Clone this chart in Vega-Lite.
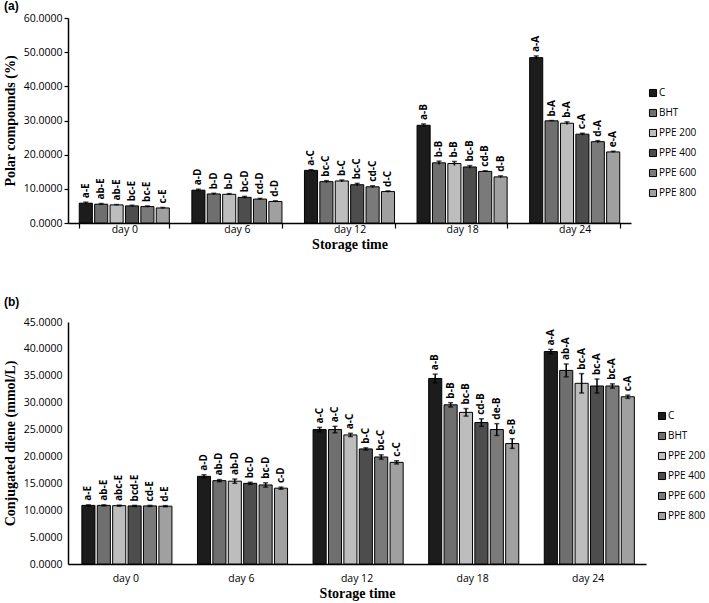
{
  "$schema": "https://vega.github.io/schema/vega-lite/v6.json",
  "padding": {"left": 3, "top": 0, "right": 0, "bottom": 0},
  "background": "white",
  "config": {
    "view": {"stroke": null},
    "font": "Open Sans",
    "axis": {
      "domainColor": "black", "domainWidth": 1.5, "tickColor": "black", "tickWidth": 1.2,
      "labelFont": "Open Sans", "labelFontSize": 10.5, "labelColor": "black",
      "titleFont": "Liberation Serif", "titleFontSize": 14, "titleFontWeight": "bold", "titleColor": "black",
      "grid": false
    },
    "legend": {
      "orient": "none", "title": null, "symbolType": "square", "symbolSize": 50,
      "symbolStrokeColor": "black", "symbolStrokeWidth": 1, "labelFont": "Open Sans",
      "labelFontSize": 10, "labelColor": "black", "rowPadding": 8, "padding": 0, "labelOffset": 1
    }
  },
  "datasets": {
    "a": [
      {"day": "day 0", "trt": "C", "v": 5.8, "lo": 5.5, "hi": 6.1, "lab": "a-E"},
      {"day": "day 0", "trt": "BHT", "v": 5.5, "lo": 5.3, "hi": 5.7, "lab": "ab-E"},
      {"day": "day 0", "trt": "PPE 200", "v": 5.3, "lo": 5.2, "hi": 5.4, "lab": "ab-E"},
      {"day": "day 0", "trt": "PPE 400", "v": 5.0, "lo": 4.8, "hi": 5.2, "lab": "bc-E"},
      {"day": "day 0", "trt": "PPE 600", "v": 4.8, "lo": 4.6, "hi": 5.0, "lab": "bc-E"},
      {"day": "day 0", "trt": "PPE 800", "v": 4.4, "lo": 4.25, "hi": 4.55, "lab": "c-E"},
      {"day": "day 6", "trt": "C", "v": 9.6, "lo": 9.3, "hi": 9.9, "lab": "a-D"},
      {"day": "day 6", "trt": "BHT", "v": 8.5, "lo": 8.3, "hi": 8.7, "lab": "b-D"},
      {"day": "day 6", "trt": "PPE 200", "v": 8.4, "lo": 8.2, "hi": 8.6, "lab": "b-D"},
      {"day": "day 6", "trt": "PPE 400", "v": 7.5, "lo": 7.2, "hi": 7.8, "lab": "bc-D"},
      {"day": "day 6", "trt": "PPE 600", "v": 7.0, "lo": 6.8, "hi": 7.2, "lab": "cd-D"},
      {"day": "day 6", "trt": "PPE 800", "v": 6.3, "lo": 6.1, "hi": 6.5, "lab": "d-D"},
      {"day": "day 12", "trt": "C", "v": 15.4, "lo": 15.2, "hi": 15.6, "lab": "a-C"},
      {"day": "day 12", "trt": "BHT", "v": 12.1, "lo": 11.8, "hi": 12.4, "lab": "bc-C"},
      {"day": "day 12", "trt": "PPE 200", "v": 12.3, "lo": 12.0, "hi": 12.6, "lab": "b-C"},
      {"day": "day 12", "trt": "PPE 400", "v": 11.2, "lo": 10.8, "hi": 11.6, "lab": "bc-C"},
      {"day": "day 12", "trt": "PPE 600", "v": 10.6, "lo": 10.3, "hi": 10.9, "lab": "cd-C"},
      {"day": "day 12", "trt": "PPE 800", "v": 9.2, "lo": 9.0, "hi": 9.4, "lab": "d-C"},
      {"day": "day 18", "trt": "C", "v": 28.6, "lo": 28.2, "hi": 29.0, "lab": "a-B"},
      {"day": "day 18", "trt": "BHT", "v": 17.6, "lo": 17.1, "hi": 18.1, "lab": "b-B"},
      {"day": "day 18", "trt": "PPE 200", "v": 17.4, "lo": 16.8, "hi": 18.0, "lab": "b-B"},
      {"day": "day 18", "trt": "PPE 400", "v": 16.4, "lo": 16.0, "hi": 16.8, "lab": "bc-B"},
      {"day": "day 18", "trt": "PPE 600", "v": 15.1, "lo": 14.9, "hi": 15.3, "lab": "cd-B"},
      {"day": "day 18", "trt": "PPE 800", "v": 13.5, "lo": 13.2, "hi": 13.8, "lab": "d-B"},
      {"day": "day 24", "trt": "C", "v": 48.4, "lo": 47.9, "hi": 48.9, "lab": "a-A"},
      {"day": "day 24", "trt": "BHT", "v": 29.9, "lo": 29.8, "hi": 30.0, "lab": "b-A"},
      {"day": "day 24", "trt": "PPE 200", "v": 29.2, "lo": 28.8, "hi": 29.6, "lab": "b-A"},
      {"day": "day 24", "trt": "PPE 400", "v": 26.0, "lo": 25.7, "hi": 26.3, "lab": "c-A"},
      {"day": "day 24", "trt": "PPE 600", "v": 23.8, "lo": 23.5, "hi": 24.1, "lab": "d-A"},
      {"day": "day 24", "trt": "PPE 800", "v": 20.8, "lo": 20.6, "hi": 21.0, "lab": "e-A"}
    ],
    "b": [
      {"day": "day 0", "trt": "C", "v": 10.9, "lo": 10.8, "hi": 11.0, "lab": "a-E"},
      {"day": "day 0", "trt": "BHT", "v": 10.9, "lo": 10.8, "hi": 11.0, "lab": "ab-E"},
      {"day": "day 0", "trt": "PPE 200", "v": 10.85, "lo": 10.75, "hi": 10.95, "lab": "abc-E"},
      {"day": "day 0", "trt": "PPE 400", "v": 10.8, "lo": 10.7, "hi": 10.9, "lab": "bcd-E"},
      {"day": "day 0", "trt": "PPE 600", "v": 10.8, "lo": 10.7, "hi": 10.9, "lab": "cd-E"},
      {"day": "day 0", "trt": "PPE 800", "v": 10.75, "lo": 10.65, "hi": 10.85, "lab": "d-E"},
      {"day": "day 6", "trt": "C", "v": 16.3, "lo": 16.0, "hi": 16.6, "lab": "a-D"},
      {"day": "day 6", "trt": "BHT", "v": 15.5, "lo": 15.3, "hi": 15.7, "lab": "ab-D"},
      {"day": "day 6", "trt": "PPE 200", "v": 15.4, "lo": 15.0, "hi": 15.8, "lab": "ab-D"},
      {"day": "day 6", "trt": "PPE 400", "v": 15.0, "lo": 14.8, "hi": 15.2, "lab": "bc-D"},
      {"day": "day 6", "trt": "PPE 600", "v": 14.7, "lo": 14.3, "hi": 15.1, "lab": "bc-D"},
      {"day": "day 6", "trt": "PPE 800", "v": 14.1, "lo": 13.9, "hi": 14.3, "lab": "c-D"},
      {"day": "day 12", "trt": "C", "v": 25.0, "lo": 24.6, "hi": 25.4, "lab": "a-C"},
      {"day": "day 12", "trt": "BHT", "v": 25.0, "lo": 24.4, "hi": 25.6, "lab": "a-C"},
      {"day": "day 12", "trt": "PPE 200", "v": 24.0, "lo": 23.7, "hi": 24.3, "lab": "a-C"},
      {"day": "day 12", "trt": "PPE 400", "v": 21.4, "lo": 21.2, "hi": 21.6, "lab": "b-C"},
      {"day": "day 12", "trt": "PPE 600", "v": 19.9, "lo": 19.5, "hi": 20.3, "lab": "bc-C"},
      {"day": "day 12", "trt": "PPE 800", "v": 18.9, "lo": 18.6, "hi": 19.2, "lab": "c-C"},
      {"day": "day 18", "trt": "C", "v": 34.5, "lo": 33.7, "hi": 35.3, "lab": "a-B"},
      {"day": "day 18", "trt": "BHT", "v": 29.6, "lo": 29.2, "hi": 30.0, "lab": "b-B"},
      {"day": "day 18", "trt": "PPE 200", "v": 28.2, "lo": 27.5, "hi": 28.9, "lab": "bc-B"},
      {"day": "day 18", "trt": "PPE 400", "v": 26.3, "lo": 25.6, "hi": 27.0, "lab": "cd-B"},
      {"day": "day 18", "trt": "PPE 600", "v": 25.0, "lo": 23.9, "hi": 26.1, "lab": "de-B"},
      {"day": "day 18", "trt": "PPE 800", "v": 22.4, "lo": 21.5, "hi": 23.3, "lab": "e-B"},
      {"day": "day 24", "trt": "C", "v": 39.5, "lo": 39.1, "hi": 39.9, "lab": "a-A"},
      {"day": "day 24", "trt": "BHT", "v": 36.0, "lo": 34.8, "hi": 37.2, "lab": "ab-A"},
      {"day": "day 24", "trt": "PPE 200", "v": 33.6, "lo": 31.8, "hi": 35.4, "lab": "bc-A"},
      {"day": "day 24", "trt": "PPE 400", "v": 33.1, "lo": 31.8, "hi": 34.4, "lab": "bc-A"},
      {"day": "day 24", "trt": "PPE 600", "v": 33.1, "lo": 32.7, "hi": 33.5, "lab": "bc-A"},
      {"day": "day 24", "trt": "PPE 800", "v": 31.1, "lo": 30.8, "hi": 31.4, "lab": "c-A"}
    ]
  },
  "spacing": 44,
  "resolve": {"scale": {"color": "independent"}, "legend": {"color": "independent"}},
  "vconcat": [
    {
      "title": {"text": "(a)", "anchor": "start", "frame": "group", "dx": -64, "fontSize": 12, "font": "Liberation Sans", "fontWeight": "bold", "offset": 0, "color": "black"},
      "width": 563, "height": 205,
      "data": {"name": "a"},
      "encoding": {
        "x": {"field": "day", "type": "nominal", "sort": ["day 0", "day 6", "day 12", "day 18", "day 24"],
              "scale": {"paddingInner": 0.2, "paddingOuter": 0.1},
              "axis": {"title": "Storage time", "labelAngle": 0, "tickBand": "extent", "tickSize": 5, "labelPadding": -4, "titlePadding": 3}},
        "xOffset": {"field": "trt", "type": "nominal", "sort": ["C", "BHT", "PPE 200", "PPE 400", "PPE 600", "PPE 800"], "scale": {"paddingInner": 0.15}}
      },
      "layer": [
        {
          "mark": {"type": "bar", "stroke": "black", "strokeWidth": 1},
          "encoding": {
            "y": {"field": "v", "type": "quantitative", "title": "Polar compounds (%)",
                  "scale": {"domain": [0, 60], "nice": false},
                  "axis": {"values": [0, 10, 20, 30, 40, 50, 60], "format": ".4f", "tickSize": 4, "labelPadding": 2, "titlePadding": 6, "labelOverlap": false}},
            "color": {"field": "trt", "type": "nominal",
                      "scale": {"domain": ["C", "BHT", "PPE 200", "PPE 400", "PPE 600", "PPE 800"],
                                "range": ["#1c1c1c", "#6f6f6f", "#bdbdbd", "#4d4d4d", "#7a7a7a", "#a0a0a0"]},
                      "legend": {"legendX": 580, "legendY": 70}}
          }
        },
        {
          "mark": {"type": "rule", "strokeWidth": 1.5, "color": "black"},
          "encoding": {"y": {"field": "lo", "type": "quantitative", "title": "Polar compounds (%)", "axis": {"values": [0, 10, 20, 30, 40, 50, 60], "format": ".4f", "tickSize": 4, "labelPadding": 2, "titlePadding": 6, "labelOverlap": false}}, "y2": {"field": "hi"}}
        },
        {
          "mark": {"type": "tick", "thickness": 1.5, "size": 5, "color": "black"},
          "encoding": {"y": {"field": "hi", "type": "quantitative", "title": "Polar compounds (%)", "axis": {"values": [0, 10, 20, 30, 40, 50, 60], "format": ".4f", "tickSize": 4, "labelPadding": 2, "titlePadding": 6, "labelOverlap": false}}}
        },
        {
          "mark": {"type": "text", "angle": 270, "align": "left", "baseline": "middle", "dx": 4, "fontSize": 10, "fontWeight": "bold", "font": "Open Sans", "color": "black"},
          "encoding": {"y": {"field": "hi", "type": "quantitative", "title": "Polar compounds (%)", "axis": {"values": [0, 10, 20, 30, 40, 50, 60], "format": ".4f", "tickSize": 4, "labelPadding": 2, "titlePadding": 6, "labelOverlap": false}}, "text": {"field": "lab"}}
        }
      ]
    },
    {
      "title": {"text": "(b)", "anchor": "start", "frame": "group", "dx": -64, "fontSize": 12, "font": "Liberation Sans", "fontWeight": "bold", "offset": 8, "color": "black"},
      "width": 578, "height": 242,
      "data": {"name": "b"},
      "encoding": {
        "x": {"field": "day", "type": "nominal", "sort": ["day 0", "day 6", "day 12", "day 18", "day 24"],
              "scale": {"paddingInner": 0.24, "paddingOuter": 0.12},
              "axis": {"title": "Storage time", "labelAngle": 0, "ticks": false, "labelPadding": 9, "titlePadding": 3}},
        "xOffset": {"field": "trt", "type": "nominal", "sort": ["C", "BHT", "PPE 200", "PPE 400", "PPE 600", "PPE 800"], "scale": {"paddingInner": 0.15}}
      },
      "layer": [
        {
          "mark": {"type": "bar", "stroke": "black", "strokeWidth": 1},
          "encoding": {
            "y": {"field": "v", "type": "quantitative", "title": "Conjugated  diene (mmol/L)",
                  "scale": {"domain": [0, 45], "nice": false},
                  "axis": {"values": [0, 5, 10, 15, 20, 25, 30, 35, 40, 45], "format": ".4f", "ticks": false, "labelPadding": 6, "titlePadding": 6, "labelOverlap": false}},
            "color": {"field": "trt", "type": "nominal",
                      "scale": {"domain": ["C", "BHT", "PPE 200", "PPE 400", "PPE 600", "PPE 800"],
                                "range": ["#1c1c1c", "#6f6f6f", "#bdbdbd", "#4d4d4d", "#7a7a7a", "#a0a0a0"]},
                      "legend": {"legendX": 589, "legendY": 89}}
          }
        },
        {
          "mark": {"type": "rule", "strokeWidth": 1.5, "color": "black"},
          "encoding": {"y": {"field": "lo", "type": "quantitative", "title": "Conjugated  diene (mmol/L)", "axis": {"values": [0, 5, 10, 15, 20, 25, 30, 35, 40, 45], "format": ".4f", "ticks": false, "labelPadding": 6, "titlePadding": 6, "labelOverlap": false}}, "y2": {"field": "hi"}}
        },
        {
          "mark": {"type": "tick", "thickness": 1.5, "size": 5, "color": "black"},
          "encoding": {"y": {"field": "hi", "type": "quantitative", "title": "Conjugated  diene (mmol/L)", "axis": {"values": [0, 5, 10, 15, 20, 25, 30, 35, 40, 45], "format": ".4f", "ticks": false, "labelPadding": 6, "titlePadding": 6, "labelOverlap": false}}}
        },
        {
          "mark": {"type": "tick", "thickness": 1.5, "size": 5, "color": "black"},
          "encoding": {"y": {"field": "lo", "type": "quantitative", "title": "Conjugated  diene (mmol/L)", "axis": {"values": [0, 5, 10, 15, 20, 25, 30, 35, 40, 45], "format": ".4f", "ticks": false, "labelPadding": 6, "titlePadding": 6, "labelOverlap": false}}}
        },
        {
          "mark": {"type": "text", "angle": 270, "align": "left", "baseline": "middle", "dx": 4, "fontSize": 10, "fontWeight": "bold", "font": "Open Sans", "color": "black"},
          "encoding": {"y": {"field": "hi", "type": "quantitative", "title": "Conjugated  diene (mmol/L)", "axis": {"values": [0, 5, 10, 15, 20, 25, 30, 35, 40, 45], "format": ".4f", "ticks": false, "labelPadding": 6, "titlePadding": 6, "labelOverlap": false}}, "text": {"field": "lab"}}
        }
      ]
    }
  ]
}
